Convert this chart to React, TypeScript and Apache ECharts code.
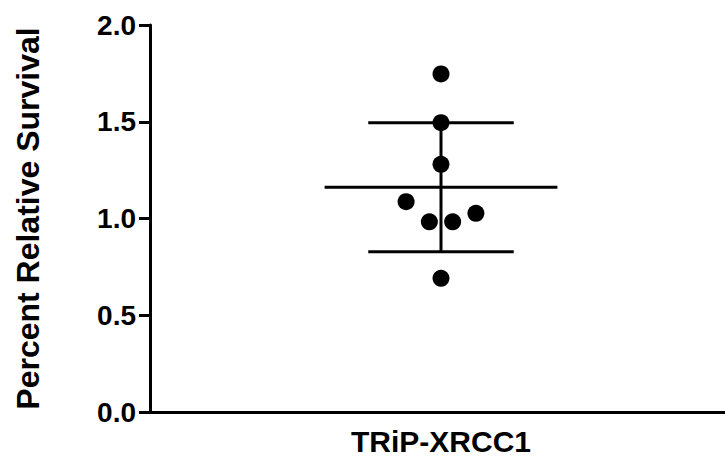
import React, { useEffect, useRef } from "react";
import * as echarts from "echarts";

const categories = ["TRiP-XRCC1"];
const pointY = [1.747, 1.495, 1.28, 1.087, 0.983, 0.983, 1.027, 0.691];
const pointOffset = [0, 0, 0, -0.12, -0.04, 0.04, 0.12, 0];
const yTicks = [0, 0.5, 1.0, 1.5, 2.0];
const yTitle = "Percent Relative Survival";

const FONT = "'Liberation Sans', Arial, Helvetica, sans-serif";

function meanOf(a: number[]) {
  return a.reduce((s, v) => s + v, 0) / a.length;
}
function sdOf(a: number[]) {
  const m = meanOf(a);
  return Math.sqrt(a.reduce((s, v) => s + (v - m) * (v - m), 0) / (a.length - 1));
}

export default function App() {
  const ref = useRef<HTMLDivElement>(null);
  useEffect(() => {
    if (!ref.current) return;
    const chart = echarts.init(ref.current, null, { renderer: "svg" });
    const mean = meanOf(pointY);
    const sd = sdOf(pointY);
    chart.setOption({
      animation: false,
      backgroundColor: "#ffffff",
      grid: { left: 150, right: -7, top: 25, bottom: 44, outerBoundsMode: "none", containLabel: false },
      xAxis: [
        {
          type: "category",
          data: categories,
          boundaryGap: true,
          axisLine: { onZero: false, lineStyle: { color: "#000", width: 3 } },
          axisTick: { alignWithLabel: true, length: 9, lineStyle: { color: "#000", width: 3 } },
          axisLabel: { color: "#000", fontFamily: FONT, fontWeight: "bold", fontSize: 30, margin: 14 },
          splitLine: { show: false },
        },
        { type: "value", min: -1, max: 1, show: false },
      ],
      yAxis: {
        type: "value",
        min: yTicks[0],
        max: yTicks[yTicks.length - 1],
        interval: 0.5,
        name: yTitle,
        nameLocation: "middle",
        nameGap: 106,
        nameTextStyle: { color: "#000", fontFamily: FONT, fontWeight: "bold", fontSize: 32 },
        axisLine: { show: true, onZero: false, lineStyle: { color: "#000", width: 3 } },
        axisTick: { show: true, length: 11, lineStyle: { color: "#000", width: 3 } },
        axisLabel: {
          color: "#000",
          fontFamily: FONT,
          fontWeight: "bold",
          fontSize: 28,
          margin: 14,
          formatter: (v: number) => v.toFixed(1),
        },
        splitLine: { show: false },
      },
      series: [
        {
          type: "custom",
          xAxisIndex: 1,
          z: 2,
          data: [[0, mean, sd]],
          renderItem: (params: any, api: any) => {
            const m = api.value(1);
            const s = api.value(2);
            const ml = api.coord([-0.4, m]);
            const mr = api.coord([0.4, m]);
            const ul = api.coord([-0.25, m + s]);
            const ur = api.coord([0.25, m + s]);
            const ll = api.coord([-0.25, m - s]);
            const lr = api.coord([0.25, m - s]);
            const top = api.coord([0, m + s]);
            const bot = api.coord([0, m - s]);
            const st = { stroke: "#000", lineWidth: 3 };
            return {
              type: "group",
              children: [
                { type: "line", shape: { x1: ml[0], y1: ml[1], x2: mr[0], y2: mr[1] }, style: st },
                { type: "line", shape: { x1: ul[0], y1: ul[1], x2: ur[0], y2: ur[1] }, style: st },
                { type: "line", shape: { x1: ll[0], y1: ll[1], x2: lr[0], y2: lr[1] }, style: st },
                { type: "line", shape: { x1: top[0], y1: top[1], x2: bot[0], y2: bot[1] }, style: st },
              ],
            };
          },
        },
        {
          type: "scatter",
          xAxisIndex: 1,
          z: 3,
          symbol: "circle",
          symbolSize: 17,
          itemStyle: { color: "#000", opacity: 1 },
          data: pointY.map((y, i) => [pointOffset[i], y]),
        },
      ],
    });
    return () => chart.dispose();
  }, []);
  return (
    <div
      ref={ref}
      style={{ position: "fixed", left: 0, top: 0, width: 725, height: 456, background: "#fff" }}
    />
  );
}
